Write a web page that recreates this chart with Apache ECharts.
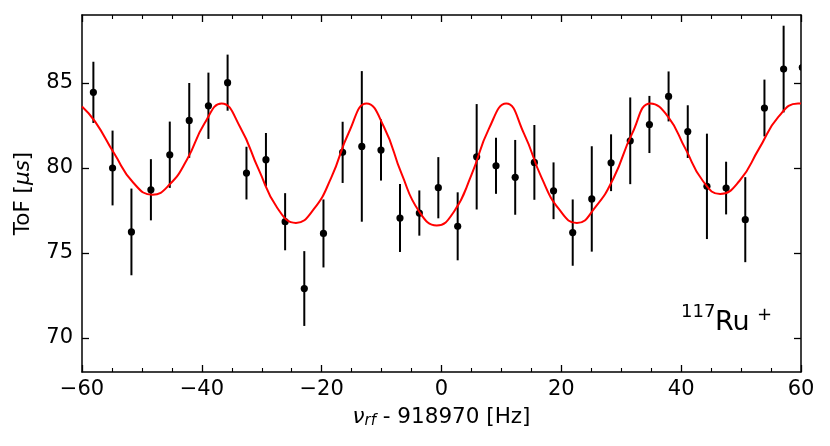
<!DOCTYPE html>
<html>
<head>
<meta charset="utf-8">
<script src="https://cdn.jsdelivr.net/npm/echarts@6/dist/echarts.min.js"></script>
<style>
html,body{margin:0;padding:0;background:#fff;}
#c{width:830px;height:446px;}
</style>
</head>
<body>
<div id="c"></div>
<script>
// Measured points (frequency offset in Hz, ToF in µs, error in µs)
const freq = [-58.1,-54.9,-51.75,-48.5,-45.35,-42.1,-38.9,-35.7,-32.55,-29.3,-26.1,-22.9,-19.7,-16.5,-13.3,-10.1,-6.93,-3.7,-0.53,2.7,5.87,9.1,12.3,15.5,18.7,21.9,25.08,28.3,31.5,34.7,37.9,41.1,44.3,47.5,50.7,53.9,57.1,60.2];
const tof = [84.45,80.0,76.24,78.72,80.78,82.8,83.66,85.02,79.7,80.49,76.84,72.91,76.15,80.92,81.27,81.06,77.06,77.35,78.84,76.57,80.66,80.13,79.45,80.33,78.66,76.2,78.18,80.31,81.6,82.56,84.21,82.14,78.92,78.82,76.96,83.53,85.82,85.92];
const tofErr = [1.8,2.2,2.55,1.8,1.95,2.2,1.95,1.65,1.55,1.57,1.68,2.2,2.0,1.8,4.43,1.8,2.0,1.33,1.8,2.0,3.1,1.65,2.2,2.2,1.67,1.95,3.1,1.67,2.55,1.68,1.47,1.55,3.1,1.55,2.5,1.67,2.55,2.5];

// Fit curve at its peaks, troughs and the points between them
const fitX = [-60,-57.81,-54.62,-51.43,-48.24,-45.36,-42.47,-39.59,-36.7,-33.6,-30.5,-27.4,-24.3,-21.35,-18.4,-15.45,-12.5,-9.58,-6.65,-3.73,-0.8,2.1,5.0,7.9,10.8,13.75,16.7,19.65,22.6,25.68,28.75,31.83,34.9,37.8,40.7,43.6,46.5,49.75,53.0,56.25,59.5,60];
const fitY = [83.62,82.73,80.85,79.13,78.43,79.04,80.5,82.6,83.8,82.4,79.9,77.65,76.77,77.56,79.43,82.1,83.8,82.4,79.65,77.44,76.62,77.44,79.6,82.3,83.8,82.04,79.43,77.56,76.76,77.7,79.43,82.04,83.8,83.02,81.14,79.25,78.47,79.25,81.14,83.02,83.8,83.79];

const xTicks = {min:-60, max:60, interval:20};
const yTickValues = [70,75,80,85];
const yRange = {min:68, max:89};

const FONT = 'DejaVu Sans';
const chart = echarts.init(document.getElementById('c'), null, {renderer:'canvas'});

const axisLineStyle = {color:'#000', width:1.5};
const baseX = {
  type:'value', min:xTicks.min, max:xTicks.max, interval:xTicks.interval,
  splitLine:{show:false},
  axisLine:{show:true, onZero:false, lineStyle:axisLineStyle},
  axisTick:{show:true, inside:true, length:7, lineStyle:{color:'#000', width:1.3}},
  minorTick:{show:true, splitNumber:4, length:4, lineStyle:{color:'#000', width:1.1}},
  minorSplitLine:{show:false}
};
const baseY = {
  type:'value', min:yRange.min, max:yRange.max,
  splitLine:{show:false},
  axisLine:{show:true, onZero:false, lineStyle:axisLineStyle},
  axisTick:{show:true, inside:true, length:7, customValues:yTickValues, lineStyle:{color:'#000', width:1.3}}
};

const pts = freq.map((f,i)=>[f, tof[i], tofErr[i]]);
const fit = fitX.map((f,i)=>[f, fitY[i]]);

chart.setOption({
  animation:false,
  backgroundColor:'#fff',
  grid:{left:82, right:29, top:15, bottom:74, containLabel:false},
  xAxis:[
    Object.assign({}, baseX, {
      position:'bottom',
      name:'{nu|ν}{sub|rf}{t| - 918970 [Hz]}',
      nameLocation:'middle', nameGap:33,
      nameTextStyle:{
        fontFamily:FONT, fontSize:21.5, color:'#000',
        rich:{
          nu:{fontFamily:FONT, fontSize:21.5, fontStyle:'italic', color:'#000'},
          sub:{fontFamily:FONT, fontSize:15, fontStyle:'italic', color:'#000', padding:[9,0,0,0]},
          t:{fontFamily:FONT, fontSize:21.5, color:'#000'}
        }
      },
      axisLabel:{show:true, margin:7, fontFamily:FONT, fontSize:21, color:'#000',
        formatter:v=> (v<0? '\u2212'+Math.abs(v) : String(v))}
    }),
    Object.assign({}, baseX, {position:'top', axisLabel:{show:false}})
  ],
  yAxis:[
    Object.assign({}, baseY, {
      position:'left',
      name:'{t|ToF [}{it|μs}{t|]}',
      nameLocation:'middle', nameGap:48,
      nameTextStyle:{
        fontFamily:FONT, fontSize:21.5, color:'#000',
        rich:{
          t:{fontFamily:FONT, fontSize:21.5, color:'#000'},
          it:{fontFamily:FONT, fontSize:21.5, fontStyle:'italic', color:'#000'}
        }
      },
      axisLabel:{show:true, margin:9, fontFamily:FONT, fontSize:21, color:'#000', customValues:yTickValues}
    }),
    Object.assign({}, baseY, {position:'right', axisLabel:{show:false}})
  ],
  series:[
    {
      type:'custom', xAxisIndex:0, yAxisIndex:0, clip:true, z:2,
      data:pts,
      encode:{x:0, y:1},
      renderItem:function(params, api){
        const x = api.value(0), y = api.value(1), e = api.value(2);
        const t = api.coord([x, y+e]), b = api.coord([x, y-e]), c = api.coord([x, y]);
        return {type:'group', children:[
          {type:'line', shape:{x1:t[0], y1:t[1], x2:b[0], y2:b[1]}, style:{stroke:'#000', lineWidth:2}},
          {type:'circle', shape:{cx:c[0], cy:c[1], r:3.6}, style:{fill:'#000'}}
        ]};
      }
    },
    {
      type:'line', xAxisIndex:0, yAxisIndex:0, data:fit, smooth:0.5, showSymbol:false, symbol:'none',
      lineStyle:{color:'#ff0000', width:2}, z:3, clip:true
    }
  ],
  graphic:[
    {type:'text', left:681, top:303, style:{text:'117', font:'18px "DejaVu Sans"', fill:'#000'}},
    {type:'text', left:715, top:309, style:{text:'Ru', font:'27px "DejaVu Sans"', fill:'#000'}},
    {type:'text', left:757, top:306, style:{text:'+', font:'18px "DejaVu Sans"', fill:'#000'}}
  ]
});
</script>
</body>
</html>
